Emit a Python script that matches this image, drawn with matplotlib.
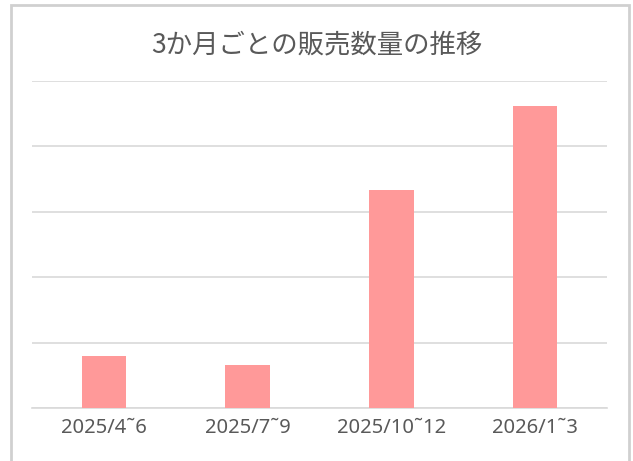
import matplotlib
matplotlib.use('Agg')
import matplotlib.pyplot as plt
from matplotlib.patches import Rectangle

plt.rcParams['font.family'] = ['Noto Sans CJK JP', 'DejaVu Sans']

# data (y axis has no labels, values read against 5 grid steps of 10)
categories = ['2025/4˜6', '2025/7˜9', '2025/10˜12', '2026/1˜3']
sales = [8.0, 6.6, 33.4, 46.2]

fig = plt.figure(figsize=(6.33, 4.61), dpi=100)
ax = fig.add_axes([32 / 633, 53 / 461, 575 / 633, 327 / 461])

x = range(len(categories))
ax.bar(x, sales, width=0.31, color='#ff9999', zorder=3)

ax.set_xlim(-0.5, len(categories) - 0.5)
ax.set_ylim(0, 50)
ax.set_yticks([0, 10, 20, 30, 40, 50])
ax.yaxis.grid(True, color='#d9d9d9', linewidth=1.2, zorder=0)
ax.tick_params(axis='y', left=False, labelleft=False)
ax.set_xticks(list(x))
ax.set_xticklabels(categories, fontsize=14.5, color='#595959',
                   family=['Noto Sans', 'DejaVu Sans'])
ax.tick_params(axis='x', length=0, pad=7)
for s in ['top', 'right', 'left']:
    ax.spines[s].set_visible(False)
ax.spines['bottom'].set_color('#d9d9d9')
ax.spines['bottom'].set_linewidth(1.2)

fig.text(0.5, 1 - 45 / 461, '3か月ごとの販売数量の推移', ha='center', va='center',
         fontsize=19, color='#595959')

# outer frame
fig.patches.append(Rectangle((11 / 633, -0.05), 618 / 633, 1.05 - 5 / 461,
                             transform=fig.transFigure, fill=False,
                             edgecolor='#d0d0d0', linewidth=2))

fig.savefig('out.png')
